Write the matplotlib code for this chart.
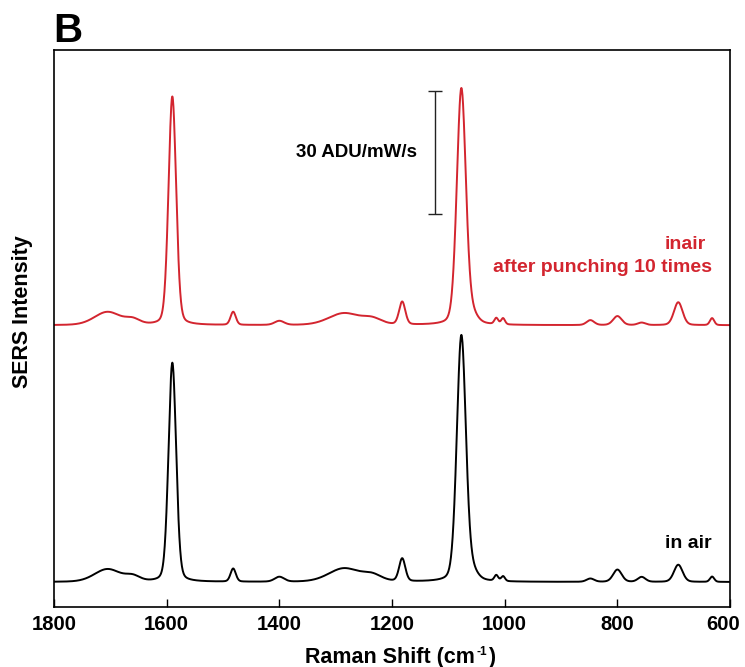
import numpy as np
import matplotlib
matplotlib.use("Agg")
import matplotlib.pyplot as plt
from matplotlib.transforms import ScaledTranslation

plt.rcParams["font.family"] = ["Liberation Sans", "DejaVu Sans"]
plt.rcParams["font.weight"] = "bold"

RED = "#d3252f"

# peak table: centre (cm-1), FWHM (cm-1), height (ADU/mW/s)
PEAK_POS = [1705, 1660, 1590, 1482, 1400, 1285, 1235, 1182, 1077, 1058,
            1015, 1003, 848, 800, 757, 692, 632]
PEAK_FWHM = [55, 30, 16, 11, 20, 65, 40, 13, 19, 22,
             8, 8, 16, 18, 16, 18, 9]
AIR_HEIGHT = [3.1, 1.2, 53.5, 3.2, 1.2, 3.3, 1.5, 5.6, 60.0, 2.0,
              1.4, 1.2, 0.8, 3.0, 1.2, 4.2, 1.3]
PUNCH_HEIGHT = [3.2, 1.2, 55.8, 3.2, 1.0, 2.9, 1.4, 5.6, 57.6, 2.0,
                1.5, 1.5, 1.2, 2.2, 0.6, 5.6, 1.7]
AIR_OFFSET = 6.1
PUNCH_OFFSET = 68.8

SCALE_X = 1124
SCALE_LO, SCALE_HI = 96, 126

XTICKS = [1800, 1600, 1400, 1200, 1000, 800, 600]

shift = np.linspace(1800, 600, 2401)


def spectrum(heights, offset):
    y = np.full_like(shift, offset)
    for c, w, h in zip(PEAK_POS, PEAK_FWHM, heights):
        d = (shift - c) / (w / 2)
        gauss = np.exp(-np.log(2) * d ** 2)
        lor = 1 / (1 + d ** 2)
        y += h * (0.8 * gauss + 0.2 * lor)
    return y


fig = plt.figure(figsize=(7.45, 6.67), dpi=100)
ax = fig.add_axes([0.0725, 0.09, 0.9075, 0.835])

ax.plot(shift, spectrum(PUNCH_HEIGHT, PUNCH_OFFSET), color=RED, lw=1.4)
ax.plot(shift, spectrum(AIR_HEIGHT, AIR_OFFSET), color="black", lw=1.4)

# scale bar
ax.errorbar([SCALE_X], [(SCALE_LO + SCALE_HI) / 2], yerr=[(SCALE_HI - SCALE_LO) / 2],
            color="#222222", lw=1.0, capsize=5, capthick=1.0)
ax.text(1156, 111, "30 ADU/mW/s", ha="right", va="center", fontsize=13.5,
        fontweight="bold")

ax.text(643, 88.5, "inair", ha="right", va="center", fontsize=14,
        fontweight="bold", color=RED)
ax.text(632, 83, "after punching 10 times", ha="right", va="center",
        fontsize=14, fontweight="bold", color=RED)
ax.text(632, 15.6, "in air", ha="right", va="center", fontsize=14,
        fontweight="bold")

ax.set_xlim(1800, 600)
ax.set_ylim(0, 136)
ax.set_xticks(XTICKS)
ax.set_yticks([])
ax.tick_params(axis="x", direction="in", length=6, width=1, pad=6,
               labelsize=14.6, top=False)
for lbl in ax.get_xticklabels():
    lbl.set_fontweight("bold")
for s in ax.spines.values():
    s.set_linewidth(1.2)

# last tick label sits a little left of its tick, as in the original
last = ax.xaxis.get_major_ticks()[-1].label1
last.set_transform(last.get_transform()
                   + ScaledTranslation(-5 / 72, 0, fig.dpi_scale_trans))

# x label built from pieces so the superscript stays small
t1 = fig.text(305 / 745, 4 / 667, "Raman Shift (cm", fontsize=15.5,
              fontweight="bold", ha="left", va="baseline")
t2 = ax.annotate("-1", xy=(1, 0.62), xycoords=t1, xytext=(1, 0),
                 textcoords="offset points", fontsize=8.5, fontweight="bold",
                 ha="left", va="baseline", annotation_clip=False)
ax.annotate(")", xy=(1, 0), xycoords=(t2, t1), xytext=(1, 0),
            textcoords="offset points", fontsize=15.5, fontweight="bold",
            ha="left", va="bottom", annotation_clip=False)

ax.set_ylabel("SERS Intensity", fontsize=15.5, fontweight="bold")
ax.yaxis.set_label_coords(-0.031, 0.531)

fig.text(53 / 745, 1 - 42 / 667, "B", fontsize=29, fontweight="bold",
         ha="left", va="baseline")

fig.savefig("out.png", dpi=100)
